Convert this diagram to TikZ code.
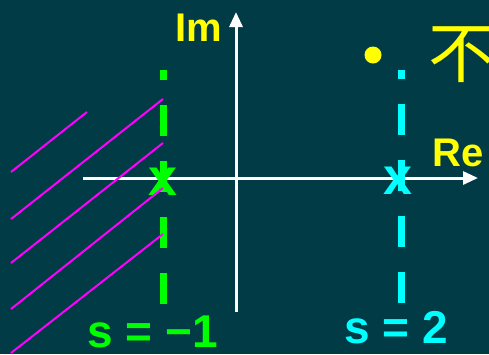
\documentclass[tikz,border=0pt]{standalone}
\usepackage{fontspec}
\setmainfont{Liberation Sans}
\newfontfamily\cjk{Noto Sans CJK SC}
\usetikzlibrary{arrows.meta}
\definecolor{bg}{RGB}{0,59,70}
\definecolor{ygreen}{RGB}{0,255,0}
\definecolor{ycyan}{RGB}{0,255,255}
\definecolor{ymag}{RGB}{255,0,255}
\definecolor{yyel}{RGB}{255,255,0}
\tikzset{
  axisline/.style={white,line width=3pt,-{Triangle[length=15pt,width=13pt]}},
  hatchline/.style={ymag,line width=2pt},
  poleline/.style={line width=7pt,dash pattern=on 31pt off 25pt},
  polemark/.style={inner sep=0pt,font=\fontsize{52}{52}\selectfont\bfseries},
  axlabel/.style={inner sep=0pt,anchor=base west,text=yyel,font=\fontsize{40}{40}\selectfont\bfseries},
  slabel/.style={inner sep=0pt,anchor=base west,font=\fontsize{46}{46}\selectfont\bfseries},
}
\begin{document}
\begin{tikzpicture}[x=1pt,y=-1pt]
\fill[bg] (0,0) rectangle (489,354);
\useasboundingbox (0,0) rectangle (489,354);
\clip (0,0) rectangle (489,354);
% axes
\coordinate (xl) at (83,178);
\coordinate (xr) at (478,178);
\coordinate (yb) at (236,312);
\coordinate (yt) at (236,12);
\draw[axisline] (xl) -- (xr);
\draw[axisline] (yb) -- (yt);
% pole lines
\coordinate (gb) at (163,304);
\coordinate (gt) at (163,70);
\coordinate (cb) at (401,303);
\coordinate (ct) at (401,70);
\draw[poleline,ygreen] (gb) -- (gt);
\draw[poleline,ycyan] (cb) -- (ct);
\node[polemark,text=ygreen] (xg) at (163,181.5) {x};
\node[polemark,text=ycyan] (xc) at (398,181) {x};
% hatch
\draw[hatchline] (11,172) -- (87,112);
\draw[hatchline] (11,219) -- (163,99);
\draw[hatchline] (11,263) -- (163,143);
\draw[hatchline] (11,309) -- (163,188);
\draw[hatchline] (11,353) -- (163,234);
% labels
\node[axlabel] (im) at (175,41) {Im};
\node[axlabel] (re) at (432,166) {Re};
\node[slabel,text=ygreen] (s1) at (87,347) {s = −1};
\node[slabel,text=ycyan] (s2) at (344,343) {s = 2};
% title fragment
\fill[yyel] (373,55) circle (8.5pt);
\node[inner sep=0pt,anchor=base west,text=yyel,font=\cjk\fontsize{66}{66}\selectfont] (bu) at (428,77) {不};
\end{tikzpicture}
\end{document}
